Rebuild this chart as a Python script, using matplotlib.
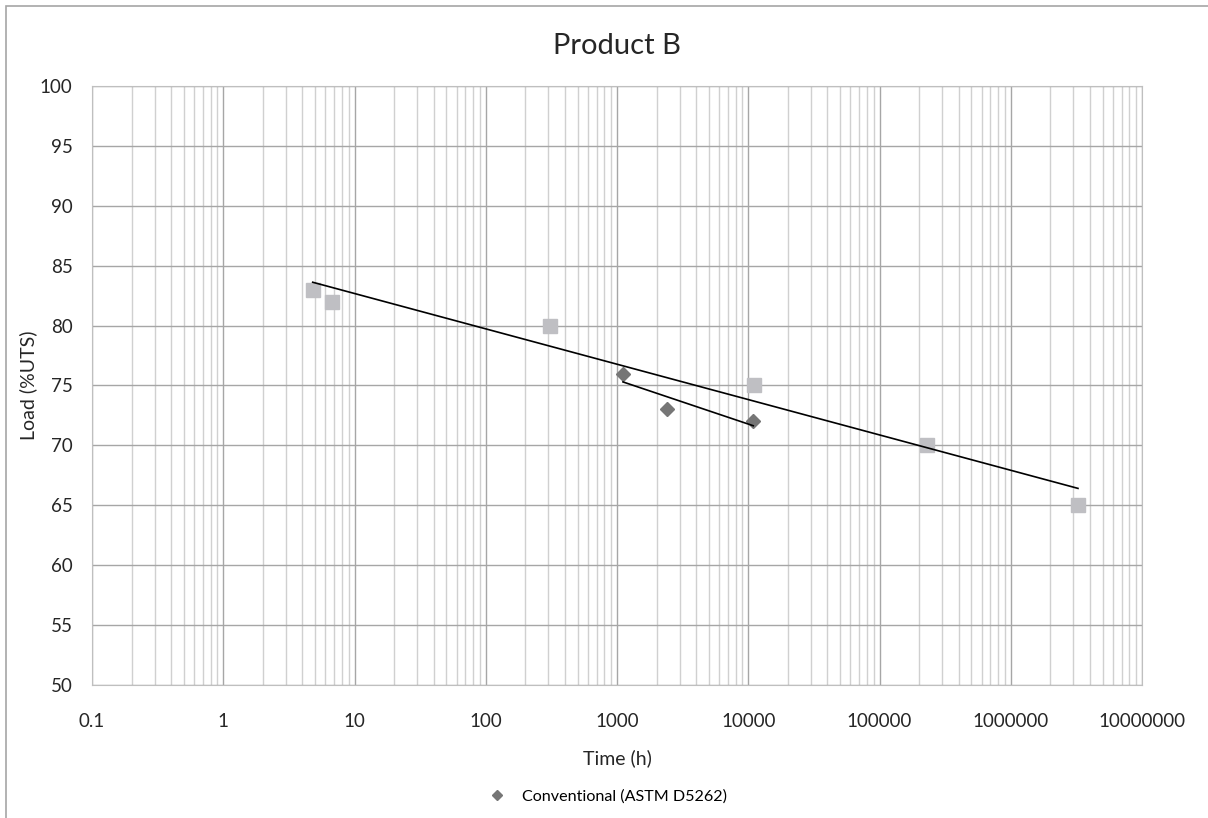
import numpy as np
import matplotlib.pyplot as plt
from matplotlib.patches import Rectangle

plt.rcParams['font.family'] = ['Lato', 'DejaVu Sans']

# data
sq_time = [4.8, 6.7, 310, 11000, 230000, 3250000]
sq_load = [83, 82, 80, 75, 70, 65]
conv_time = [1110, 2400, 10900]
conv_load = [76, 73, 72]

x_ticks = [0.1, 1, 10, 100, 1000, 10000, 100000, 1000000, 10000000]
x_labels = ['0.1', '1', '10', '100', '1000', '10000', '100000', '1000000', '10000000']


def log_trend(t, y):
    # Excel style logarithmic trendline
    a, b = np.polyfit(np.log10(t), y, 1)
    xs = np.array([min(t), max(t)])
    return xs, a * np.log10(xs) + b


fig = plt.figure(figsize=(12.08, 8.18), dpi=100)
ax = fig.add_axes([0.0762, 0.1626, 0.8692, 0.7323])

# outer chart border
fig.patches.append(Rectangle((6 / 1208, -0.1), 1.2, 1.1 - 6 / 818,
                             transform=fig.transFigure, fill=False,
                             edgecolor='#a6a6a6', linewidth=1.2))

ax.set_xscale('log')
ax.set_xlim(0.1, 1e7)
ax.set_ylim(50, 100)
ax.set_yticks(range(50, 101, 5))
ax.set_xticks(x_ticks)
ax.set_xticklabels(x_labels)
ax.minorticks_on()
ax.tick_params(which='both', length=0, labelsize=13.5, colors='#262626')
ax.tick_params(axis='x', pad=20)
ax.tick_params(axis='y', pad=14)
ax.yaxis.set_minor_locator(plt.NullLocator())

ax.grid(True, which='major', color='#a6a6a6', linewidth=1.0)
ax.grid(True, which='minor', axis='x', color='#d0d0d0', linewidth=1.0)
ax.set_axisbelow(True)
for s in ax.spines.values():
    s.set_color('#bfbfbf')

ax.plot(sq_time, sq_load, 's', color='#bfbfc3', markersize=9.5, zorder=3)
ax.plot(conv_time, conv_load, 'D', color='#767676', markersize=7, zorder=3,
        label='Conventional (ASTM D5262)')

tx, ty = log_trend(sq_time, sq_load)
ax.plot(tx, ty, color='black', linewidth=1.2, zorder=4)
tx, ty = log_trend(conv_time, conv_load)
ax.plot(tx, ty, color='black', linewidth=1.2, zorder=4)

ax.set_title('Product B', fontsize=21, color='#262626', pad=23)
ax.set_xlabel('Time (h)', fontsize=14, color='#262626', labelpad=14)
ax.set_ylabel('Load (%UTS)', fontsize=14, color='#262626')
ax.yaxis.set_label_coords(-0.0524, 0.5)

fig.legend(loc='center', bbox_to_anchor=(0.5, 0.026), frameon=False,
           fontsize=11.6, handletextpad=0.6, markerscale=0.75)

fig.savefig('out.png', dpi=100)
